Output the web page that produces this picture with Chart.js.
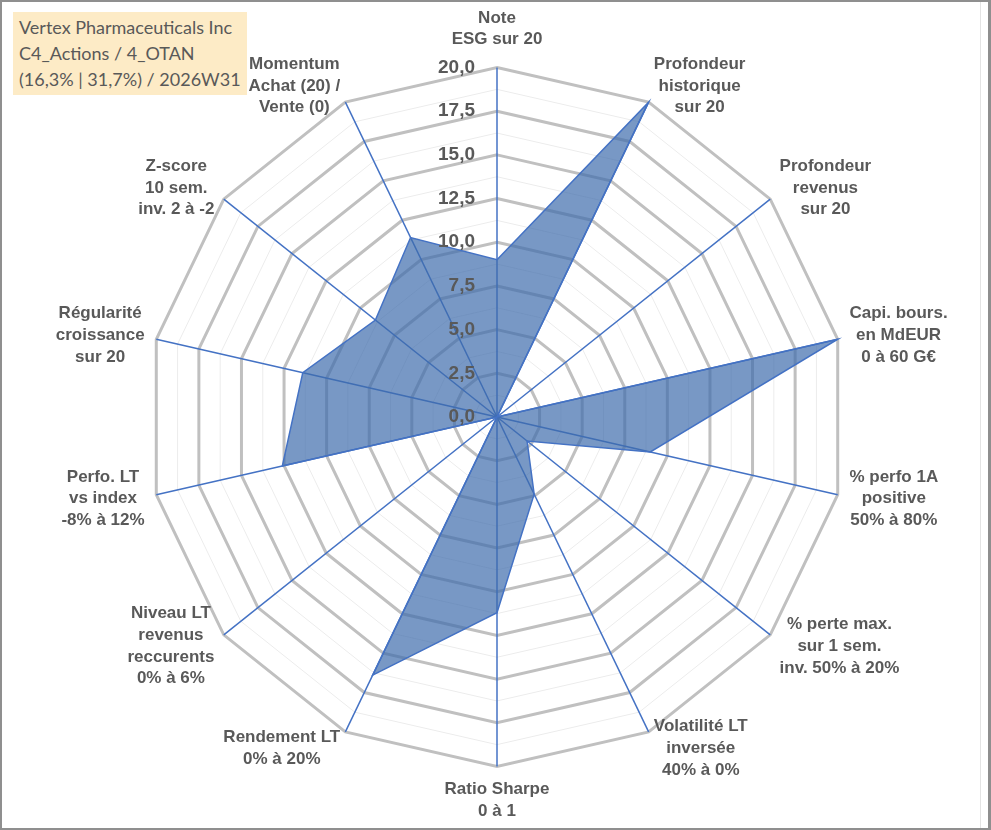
<!DOCTYPE html>
<html lang="fr">
<head>
<meta charset="utf-8">
<title>Vertex Pharmaceuticals Inc</title>
<script src="https://cdn.jsdelivr.net/npm/chart.js@4.4.1/dist/chart.umd.min.js"></script>
<style>
  html, body { margin: 0; padding: 0; background: #fff; }
  #frame {
    position: relative;
    width: 991px;
    height: 830px;
    box-sizing: border-box;
    border: 2px solid #8f8f8f;
    border-right-width: 3px;
    background: #fff;
  }
  #frame::after {
    content: '';
    position: absolute;
    left: 978px;
    top: 0;
    width: 1px;
    height: 100%;
    background: #e3e3e3;
  }
  #chart-wrap { position: absolute; left: 0; top: 0; width: 986px; height: 826px; }
  #title-box {
    position: absolute;
    left: 11px;
    top: 10px;
    padding: 2px 6px 3px 6px;
    background: #fdebc6;
    color: #595959;
    font-family: Lato, 'Open Sans', sans-serif;
    font-size: 18px;
    line-height: 26px;
    z-index: 2;
  }
</style>
</head>
<body>
<div id="frame">
  <div id="chart-wrap"><canvas id="radarChart"></canvas></div>
  <div id="title-box">Vertex Pharmaceuticals Inc<br>C4_Actions / 4_OTAN<br>(16,3% | 31,7%) / 2026W31</div>
</div>
<script>
'use strict';

const axisLabels = [
  ['Note', 'ESG sur 20'],
  ['Profondeur', 'historique', 'sur 20'],
  ['Profondeur', 'revenus', 'sur 20'],
  ['Capi. bours.', 'en MdEUR', '0 à 60 G€'],
  ['% perfo 1A', 'positive', '50% à 80%'],
  ['% perte max.', 'sur 1 sem.', 'inv. 50% à 20%'],
  ['Volatilité LT', 'inversée', '40% à 0%'],
  ['Ratio Sharpe', '0 à 1'],
  ['Rendement LT', '0% à 20%'],
  ['Niveau LT', 'revenus', 'reccurents', '0% à 6%'],
  ['Perfo. LT', 'vs index', '-8% à 12%'],
  ['Régularité', 'croissance', 'sur 20'],
  ['Z-score', '10 sem.', 'inv. 2 à -2'],
  ['Momentum', 'Achat (20) /', 'Vente (0)'],
];

const scores = [9.0, 20, 0, 20, 9.0, 2.2, 4.9, 11.2, 16.4, 0, 12.6, 11.4, 8.9, 11.4];

const scaleMin = 0;
const scaleMax = 20;
const majorStep = 2.5;

const TEXT_COLOR = '#595959';
const LABEL_FONT = { family: "'Liberation Sans', Arial, sans-serif", size: 17, weight: 'bold', lineHeight: 1.28 };

function isMajor(value) {
  return Math.abs(value / majorStep - Math.round(value / majorStep)) < 1e-6;
}

// tick values drawn to the left of the vertical axis, like Excel does
const tickLabelPlugin = {
  id: 'tickLabels',
  afterDatasetsDraw(chart) {
    const scale = chart.scales.r;
    const ctx = chart.ctx;
    ctx.save();
    ctx.font = "bold 19px 'Liberation Sans', Arial, sans-serif";
    ctx.fillStyle = TEXT_COLOR;
    ctx.textAlign = 'right';
    ctx.textBaseline = 'middle';
    scale.ticks.forEach((tick) => {
      if (!isMajor(tick.value)) return;
      const dist = scale.getDistanceFromCenterForValue(tick.value);
      const text = tick.value.toFixed(1).replace('.', ',');
      ctx.fillText(text, scale.xCenter - 22, scale.yCenter - dist);
    });
    ctx.restore();
  },
};

// Excel-style axis titles: centred lines, box set beside the end of each axis
const axisTitlePlugin = {
  id: 'axisTitles',
  afterDraw(chart) {
    const scale = chart.scales.r;
    const ctx = chart.ctx;
    const lineHeight = LABEL_FONT.size * LABEL_FONT.lineHeight;
    ctx.save();
    ctx.font = `bold ${LABEL_FONT.size}px ${LABEL_FONT.family}`;
    ctx.fillStyle = TEXT_COLOR;
    ctx.textAlign = 'center';
    ctx.textBaseline = 'middle';
    axisLabels.forEach((lines, i) => {
      const angle = scale.getIndexAngle(i);
      const s = Math.sin(angle);
      const c = Math.cos(angle);
      const end = scale.getPointPosition(i, scale.drawingArea);
      const w = Math.max(...lines.map((line) => ctx.measureText(line).width));
      const h = lines.length * lineHeight;
      let cx;
      let cy;
      if (Math.abs(s) < 0.01) {
        cx = end.x;
        cy = end.y - Math.sign(c) * (h / 2 + (c > 0 ? 17 : 12));
      } else {
        cx = end.x + Math.sign(s) * w / 2 + s * 12;
        cy = end.y - c * 18;
      }
      const top = cy - h / 2;
      lines.forEach((line, j) => {
        ctx.fillText(line, cx, top + lineHeight * (j + 0.5));
      });
    });
    ctx.restore();
  },
};

new Chart(document.getElementById('radarChart'), {
  type: 'radar',
  data: {
    labels: axisLabels,
    datasets: [{
      data: scores,
      backgroundColor: 'rgba(62, 108, 172, 0.7)',
      borderColor: '#4472C4',
      borderWidth: 1.5,
      pointRadius: 0,
      fill: true,
    }],
  },
  options: {
    responsive: true,
    maintainAspectRatio: false,
    animation: false,
    layout: { padding: { top: 12, bottom: 8, left: 14, right: 0 } },
    plugins: {
      legend: { display: false },
      tooltip: { enabled: false },
    },
    scales: {
      r: {
        min: scaleMin,
        max: scaleMax,
        beginAtZero: true,
        ticks: { stepSize: majorStep / 2, display: false },
        grid: {
          color: (ctx) => (ctx.tick && isMajor(ctx.tick.value) ? '#c0c0c0' : '#ececec'),
          lineWidth: (ctx) => (ctx.tick && isMajor(ctx.tick.value) ? 3 : 1),
        },
        angleLines: { color: '#4472C4', lineWidth: 1.5 },
        pointLabels: {
          color: 'rgba(0,0,0,0)',
          font: LABEL_FONT,
          padding: 10,
        },
      },
    },
  },
  plugins: [tickLabelPlugin, axisTitlePlugin],
});
</script>
</body>
</html>
